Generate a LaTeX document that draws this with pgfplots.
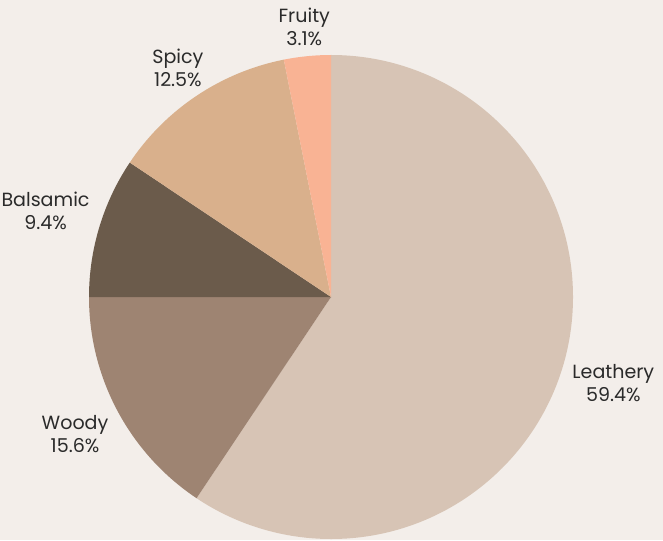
\documentclass[border=0pt]{standalone}
\usepackage{pgfplots}
\usepackage{pgfplotstable}
\pgfplotsset{compat=1.18}
\usetikzlibrary{calc}
\usepackage{fontspec}
\setmainfont{Poppins}

\definecolor{bg}{HTML}{F3EEEA}
\definecolor{c0}{HTML}{D7C4B5}
\definecolor{c1}{HTML}{9E8472}
\definecolor{c2}{HTML}{6B5B4B}
\definecolor{c3}{HTML}{D9B08C}
\definecolor{c4}{HTML}{F9B394}
\definecolor{txt}{HTML}{2A2A2A}

% aromas, clockwise from the top
\pgfplotstableread{
label count pct
Leathery 19 59.4
Woody 5 15.6
Balsamic 3 9.4
Spicy 4 12.5
Fruity 1 3.1
}\piedata

% cumulated start/end angles of the slices
\xdef\total{0}
\foreach \i in {0,...,4}{
  \pgfplotstablegetelem{\i}{count}\of\piedata
  \pgfmathsetmacro\t{\total+\pgfplotsretval}\xdef\total{\t}
}
\xdef\cum{0}
\foreach \i in {0,...,4}{
  \pgfplotstablegetelem{\i}{count}\of\piedata
  \pgfmathsetmacro\s{90-\cum/\total*360}
  \pgfmathsetmacro\e{90-(\cum+\pgfplotsretval)/\total*360}
  \pgfmathsetmacro\m{(\s+\e)/2}
  \pgfmathsetmacro\a{\m+180}
  \expandafter\xdef\csname s\i\endcsname{\s}
  \expandafter\xdef\csname e\i\endcsname{\e}
  \expandafter\xdef\csname m\i\endcsname{\m}
  \expandafter\xdef\csname a\i\endcsname{\a}
  \pgfmathsetmacro\t{\cum+\pgfplotsretval}\xdef\cum{\t}
  \pgfplotstablegetelem{\i}{label}\of\piedata
  \expandafter\xdef\csname l\i\endcsname{\pgfplotsretval}
  \pgfplotstablegetelem{\i}{pct}\of\piedata
  \expandafter\xdef\csname p\i\endcsname{\pgfplotsretval}
}

\begin{document}
\begin{tikzpicture}
\begin{axis}[
  x=0.75pt, y=0.75pt,
  xmin=0, xmax=663, ymin=0, ymax=540,
  hide axis, clip=false,
]
\fill[bg] (axis cs:0,0) rectangle (axis cs:663,540);
\pgfplotsinvokeforeach{0,...,4}{
  \fill[c#1] (axis cs:331,243) -- +(\csname s#1\endcsname:181.5pt)
    arc[start angle=\csname s#1\endcsname, end angle=\csname e#1\endcsname, radius=181.5pt] -- cycle;
  \node[txt, font=\fontsize{14.3}{17.3}\selectfont, align=center, inner sep=1pt,
        anchor=\csname a#1\endcsname]
    at ($(axis cs:331,243)+(\csname m#1\endcsname:188pt)$)
    {\csname l#1\endcsname\\\csname p#1\endcsname\%};
}
\end{axis}
\end{tikzpicture}
\end{document}
